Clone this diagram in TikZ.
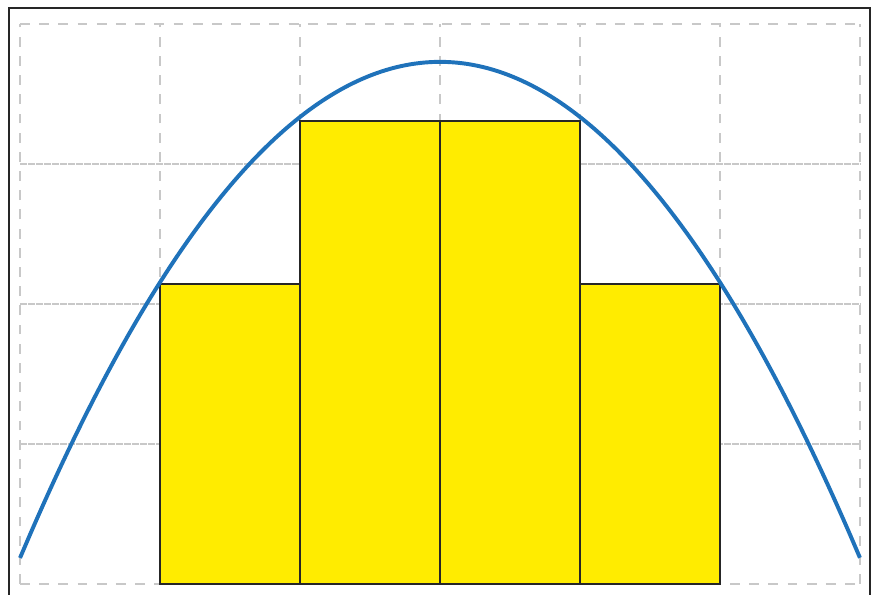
\documentclass[tikz,border=0pt]{standalone}
\definecolor{baryellow}{RGB}{255, 236, 0}
\definecolor{curveblue}{RGB}{31, 114, 186}
\definecolor{gridgray}{RGB}{200, 200, 200}
\usepackage{tikz}
\usetikzlibrary{positioning}

\begin{document}
\begin{tikzpicture}[x=2cm, y=2cm,
    gridv/.style={gridgray, line width=0.8pt, dash pattern=on 4pt off 3.8pt},
    gridh/.style={gridgray, line width=0.8pt, dash pattern=on 3pt off 0.25pt},
    bar/.style={draw=black!85, fill=baryellow, line width=0.8pt},
    curve/.style={curveblue, line width=1.6pt}]
  \useasboundingbox (-0.143,-0.079) rectangle (6.150,4.171);
  % frame
  \draw[black!85, line width=0.9pt] (-0.079,-0.2) rectangle (6.071,4.114);
  % grid
  \foreach \x in {0,...,6} \draw[gridv] (\x,0) -- (\x,4);
  \foreach \y in {0,4} \draw[gridv] (0,\y) -- (6,\y);
  \foreach \y in {1,2,3} \draw[gridh] (0,\y) -- (6,\y);
  % bars
  \foreach \x/\h in {1/2.14, 2/3.31, 3/3.31, 4/2.14}
    \draw[bar] (\x,0) rectangle (\x+1,\h);
  % curve
  \draw[curve, domain=0:6, samples=80, smooth] plot (\x, {3.729-0.3937*(\x-3)^2});
\end{tikzpicture}
\end{document}
